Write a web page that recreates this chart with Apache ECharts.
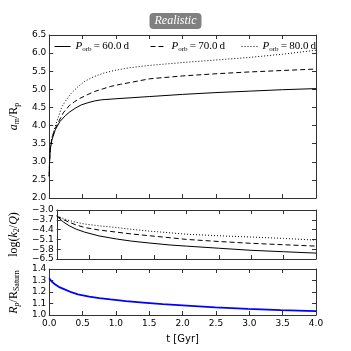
<!DOCTYPE html>
<html><head><meta charset="utf-8">
<script src="https://cdn.jsdelivr.net/npm/echarts@6/dist/echarts.min.js"></script>
<style>html,body{margin:0;padding:0;background:#fff}#c{width:351px;height:351px}</style>
</head><body><div id="c"></div>
<script>
// ---- data ----
var t60 = [0, 0.005, 0.015, 0.04, 0.09, 0.16, 0.24, 0.31, 0.40, 0.48, 0.58, 0.68, 0.78, 0.85, 1.0, 1.5, 2.0, 2.5, 3.0, 3.5, 4.0];
var a60 = [2.6, 3.0, 3.33, 3.6, 3.88, 4.11, 4.27, 4.38, 4.49, 4.57, 4.63, 4.68, 4.71, 4.72, 4.74, 4.80, 4.86, 4.91, 4.95, 4.99, 5.02];
var t70 = [0, 0.005, 0.015, 0.04, 0.09, 0.14, 0.21, 0.30, 0.38, 0.46, 0.57, 0.68, 0.8, 0.92, 1.07, 1.22, 1.5, 2.0, 2.5, 3.0, 3.5, 4.0];
var a70 = [2.6, 3.0, 3.35, 3.65, 3.92, 4.1, 4.35, 4.55, 4.66, 4.75, 4.85, 4.94, 5.01, 5.08, 5.14, 5.19, 5.29, 5.37, 5.43, 5.48, 5.52, 5.56];
var t80 = [0, 0.005, 0.015, 0.04, 0.09, 0.13, 0.19, 0.26, 0.33, 0.43, 0.53, 0.67, 0.82, 1.0, 1.22, 1.5, 2.0, 2.5, 3.0, 3.5, 4.0];
var a80 = [2.6, 3.0, 3.36, 3.68, 3.98, 4.2, 4.52, 4.72, 4.89, 5.07, 5.22, 5.35, 5.45, 5.53, 5.6, 5.66, 5.74, 5.81, 5.88, 5.97, 6.08];

var tk = [0, 0.1, 0.19, 0.3, 0.43, 0.65, 0.92, 1.15, 1.41, 1.75, 2.0, 2.5, 3.0, 3.5, 4.0];
var k60 = [-3.43, -3.85, -4.12, -4.37, -4.58, -4.85, -5.07, -5.22, -5.35, -5.5, -5.58, -5.73, -5.88, -5.98, -6.08];
var k70 = [-3.43, -3.68, -3.87, -4.07, -4.25, -4.43, -4.58, -4.71, -4.83, -4.98, -5.1, -5.25, -5.38, -5.48, -5.58];
var k80 = [-3.43, -3.6, -3.75, -3.88, -4.0, -4.13, -4.25, -4.38, -4.5, -4.63, -4.73, -4.84, -4.93, -5.03, -5.15];

var tr = [0, 0.03, 0.09, 0.16, 0.24, 0.33, 0.43, 0.6, 0.75, 0.92, 1.15, 1.41, 1.7, 2.0, 2.49, 2.98, 3.47, 4.0];
var rp = [1.32, 1.295, 1.265, 1.24, 1.22, 1.198, 1.18, 1.16, 1.147, 1.135, 1.12, 1.108, 1.095, 1.084, 1.067, 1.054, 1.042, 1.033];

var xTicks = [0, 0.5, 1.0, 1.5, 2.0, 2.5, 3.0, 3.5, 4.0];
var yTopTicks = [2.0, 2.5, 3.0, 3.5, 4.0, 4.5, 5.0, 5.5, 6.0, 6.5];
var yMidTicks = [-6.5, -5.8, -5.1, -4.4, -3.7, -3.0];
var yBotTicks = [1.0, 1.1, 1.2, 1.3, 1.4];
var legendNames = ['P60', 'P70', 'P80'];
var legendLabels = ['60.0', '70.0', '80.0'];

function pairs(t, v) { return t.map(function (x, i) { return [x, v[i]]; }); }
function fmt(v) { return Number(v).toFixed(1).replace('-', '\u2212'); }

var AX = '#333';
var tickFont = { fontFamily: 'DejaVu Sans', fontSize: 9, color: '#000' };
var serif = 'Liberation Serif';

function xAx(grid, pos, showLabel, name) {
  var o = {
    type: 'value', gridIndex: grid, position: pos, min: 0, max: 4,
    axisLine: { show: true, onZero: false, lineStyle: { color: AX, width: 1 } },
    axisTick: { show: true, inside: true, length: 4, customValues: xTicks, lineStyle: { color: AX } },
    axisLabel: Object.assign({ show: showLabel, customValues: xTicks, formatter: fmt, margin: 4 }, tickFont),
    splitLine: { show: false }
  };
  if (name) {
    o.name = name; o.nameLocation = 'middle'; o.nameGap = 19;
    o.nameTextStyle = { fontFamily: 'DejaVu Sans', fontSize: 10, color: '#000' };
  }
  return o;
}
function yAx(grid, pos, mn, mx, ticks, showLabel, name, gap) {
  var o = {
    type: 'value', gridIndex: grid, position: pos, min: mn, max: mx,
    axisLine: { show: true, onZero: false, lineStyle: { color: AX, width: 1 } },
    axisTick: { show: true, inside: true, length: 4, customValues: ticks, lineStyle: { color: AX } },
    axisLabel: Object.assign({ show: showLabel, customValues: ticks, formatter: fmt, margin: 3 }, tickFont),
    splitLine: { show: false }
  };
  if (name) {
    o.name = name; o.nameLocation = 'middle'; o.nameGap = gap; o.nameRotate = 90;
    o.nameTextStyle = {
      fontFamily: serif, fontSize: 12, color: '#000',
      rich: {
        i: { fontFamily: serif, fontStyle: 'italic', fontSize: 12 },
        r: { fontFamily: serif, fontSize: 12 },
        s: { fontFamily: serif, fontSize: 8, verticalAlign: 'bottom', padding: [6, 0, 0, 0] },
        si: { fontFamily: serif, fontSize: 8, fontStyle: 'italic', padding: [6, 0, 0, 0] }
      }
    };
  }
  return o;
}

function line(name, x, y, t, v, type, color, width) {
  return {
    name: name, type: 'line', xAxisIndex: x, yAxisIndex: y, data: pairs(t, v),
    symbol: 'none', smooth: false, silent: true, animation: false,
    itemStyle: { color: color || '#000' },
    lineStyle: { color: color || '#000', width: width || 1, type: type }
  };
}

function legend(i, left) {
  return {
    data: [legendNames[i]], left: left, top: 36, itemWidth: 16, itemHeight: 10, itemGap: 0,
    itemStyle: { opacity: 0 }, lineStyle: { width: 1 },
    selectedMode: false, textStyle: {
      fontFamily: serif, fontSize: 11, color: '#000',
      rich: {
        i: { fontFamily: serif, fontStyle: 'italic', fontSize: 11 },
        s: { fontFamily: serif, fontSize: 7, padding: [5, 0, 0, 0] },
        n: { fontFamily: serif, fontSize: 11 }
      }
    },
    formatter: function () { return '{i|P}{s|orb}{n|\u2009=\u2009' + legendLabels[i] + '\u2009d}'; }
  };
}

var option = {
  animation: false,
  title: {
    text: 'Realistic', left: 'center', top: 13,
    backgroundColor: '#808080', borderRadius: 4, padding: [2, 5, 2, 5],
    textStyle: { color: '#fff', fontFamily: serif, fontStyle: 'italic', fontWeight: 'normal', fontSize: 12 }
  },
  legend: [legend(0, 49), legend(1, 145), legend(2, 236)],
  grid: [
    { left: 44, top: 35, width: 272, height: 163 },
    { left: 44, top: 210, width: 272, height: 49 },
    { left: 44, top: 269, width: 272, height: 46 }
  ],
  xAxis: [
    xAx(0, 'bottom', false), xAx(0, 'top', false),
    xAx(1, 'bottom', false), xAx(1, 'top', false),
    xAx(2, 'bottom', true, 't [Gyr]'), xAx(2, 'top', false)
  ],
  yAxis: [
    yAx(0, 'left', 2.0, 6.5, yTopTicks, true, '{i|a}{s|m}{r|/R}{s|p}', 22), yAx(0, 'right', 2.0, 6.5, yTopTicks, false),
    yAx(1, 'left', -6.5, -3.0, yMidTicks, true, '{r|log(}{i|k}{s|2}{r|/}{i|Q}{r|)}', 26), yAx(1, 'right', -6.5, -3.0, yMidTicks, false),
    yAx(2, 'left', 1.0, 1.4, yBotTicks, true, '{i|R}{si|p}{r|/R}{s|Saturn}', 22), yAx(2, 'right', 1.0, 1.4, yBotTicks, false)
  ],
  series: [
    line('P60', 0, 0, t60, a60, 'solid'),
    line('P70', 0, 0, t70, a70, [5, 3]),
    line('P80', 0, 0, t80, a80, [1, 2]),
    line('k60', 2, 2, tk, k60, 'solid'),
    line('k70', 2, 2, tk, k70, [5, 3]),
    line('k80', 2, 2, tk, k80, [1, 2]),
    line('rp', 4, 4, tr, rp, 'solid', '#0000ff', 1.8)
  ]
};
var chart = echarts.init(document.getElementById('c'), null, { renderer: 'canvas' });
chart.setOption(option);
</script></body></html>
